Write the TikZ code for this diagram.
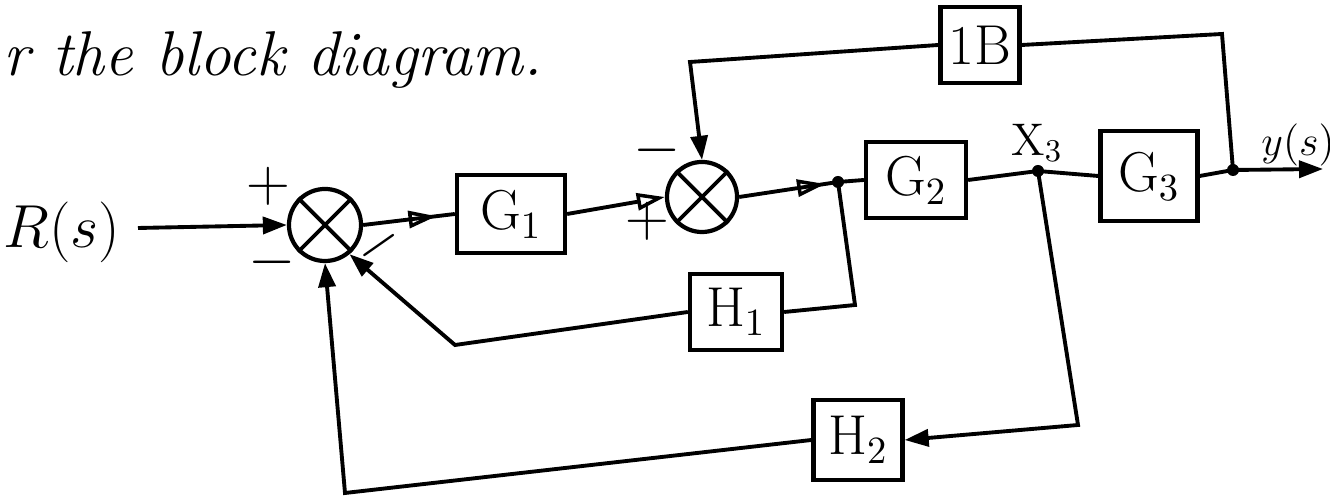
\documentclass[tikz,border=0pt]{standalone}
\usetikzlibrary{arrows.meta,decorations.markings,calc}
\begin{document}
\begin{tikzpicture}[x=0.01cm,y=-0.01cm, line width=1.1pt,
  blk/.style={draw, line width=1.2pt, inner sep=0pt, font=\fontsize{16}{18}\selectfont},
  sumjn/.style={draw, circle, line width=1.2pt, minimum size=0.72cm, inner sep=0pt},
  dotn/.style={circle, fill, inner sep=0pt, minimum size=0.12cm},
  sig/.style={font=\fontsize{16}{18}\selectfont},
  tip/.style={-{Triangle[length=0.24cm,width=0.17cm]}},
  opentip/.style={-{Triangle[open,length=0.28cm,width=0.17cm,line width=1pt]}},
  midtip/.style={postaction={decorate}, decoration={markings, mark=at position #1 with {\arrow{Triangle[open,length=0.28cm,width=0.17cm,line width=1pt]}}}},
]
\useasboundingbox (0,0) rectangle (1330,498);

% title
\node[anchor=base west, font=\itshape\fontsize{18}{20}\selectfont, inner sep=0pt] (title) at (2,76) {r the block diagram.};

% forward path
\node[font=\fontsize{19}{21}\selectfont] (R) at (62,232) {$R(s)$};
\coordinate (in) at (138,228);
\node[sumjn] (s1) at (325,225) {};
\node[blk, minimum width=1.08cm, minimum height=0.78cm] (G1) at (511,214) {G$_1$};
\node[sumjn, minimum size=0.70cm] (s2) at (702,197) {};
\node[dotn] (d1) at (838,182) {};
\node[blk, minimum width=1.0cm, minimum height=0.76cm] (G2) at (916,180) {G$_2$};
\node[dotn] (x3) at (1038,171) {};
\node[font=\fontsize{13}{15}\selectfont] (x3l) at (1037,143) {X$_3$};
\node[blk, minimum width=0.97cm, minimum height=0.9cm] (G3) at (1149,176) {G$_3$};
\node[dotn] (od) at (1233,170) {};
\coordinate (out) at (1323,169);
\node[font=\fontsize{12}{14}\selectfont] (yl) at (1298,145) {$y(s)$};

% feedback blocks
\node[blk, minimum width=0.79cm, minimum height=0.76cm] (B) at (980,45) {1B};
\node[blk, minimum width=0.92cm, minimum height=0.76cm] (H1) at (736,312) {H$_1$};
\node[blk, minimum width=0.89cm, minimum height=0.8cm] (H2) at (858,440) {H$_2$};

% corners
\coordinate (ctr) at (1222,34);
\coordinate (ctl) at (690,62);
\coordinate (ch1r) at (855,305);
\coordinate (ch1l) at (455,345);
\coordinate (ch2r) at (1078,425);
\coordinate (ch2l) at (345,493);

% summing junction crosses
\draw (s1.45) -- (s1.-135) (s1.135) -- (s1.-45);
\draw (s2.45) -- (s2.-135) (s2.135) -- (s2.-45);

% forward connectors
\draw[tip] (in) -- (s1.west);
\draw[midtip=0.8] (s1.east) -- (G1.west);
\draw[opentip] (G1.east) -- (s2.west);
\draw[midtip=0.87] (s2.east) -- (d1.center);
\draw (d1.center) -- (G2.west);
\draw (G2.east) -- (x3.center) -- (G3.west);
\draw (G3.east) -- (od.center);
\draw[tip] (od.center) -- (out);

% feedback connectors
\draw (od.center) -- (ctr) -- (B.east);
\draw[tip] (B.west) -- (ctl) -- (s2.north);
\draw (d1.center) -- (ch1r) -- (H1.east);
\draw[tip] (H1.west) -- (ch1l) -- (s1.-50);
\draw[tip] (x3.center) -- (ch2r) -- (H2.east);
\draw[tip] (H2.west) -- (ch2l) -- (s1.south);

% signs
\node[sig] (p1) at (268,186) {$+$};
\node[sig] (m1) at (272,262) {$-$};
\node[sig, rotate=35] (m2) at (379,246) {$-$};
\node[sig] (m3) at (657,150) {$-$};
\node[sig] (p2) at (647,221) {$+$};
\end{tikzpicture}
\end{document}
